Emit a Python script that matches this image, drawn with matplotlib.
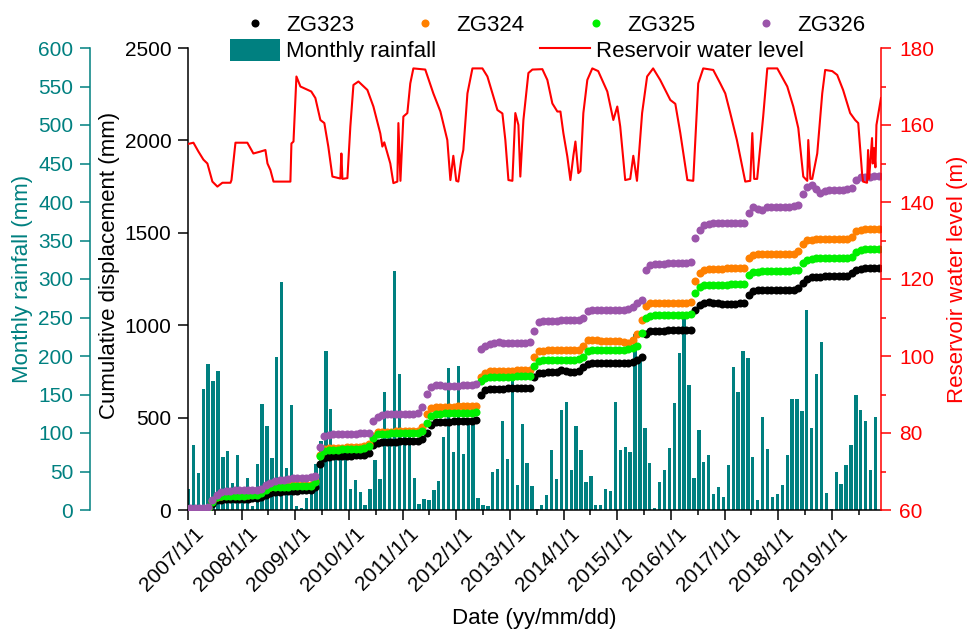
import numpy as np
import pandas as pd
import matplotlib
matplotlib.use("Agg")
import matplotlib.pyplot as plt
import matplotlib.dates as mdates
import matplotlib.transforms as mtransforms
from matplotlib.lines import Line2D
from matplotlib.patches import Patch
from matplotlib.ticker import MultipleLocator, FuncFormatter

plt.rcParams["font.family"] = ["Liberation Sans", "DejaVu Sans"]

# ------------------------------------------------------------
# data
# ------------------------------------------------------------
# monthly rainfall bars (mm), in plotting order
rain = [27, 84, 48, 157, 189, 168, 180, 69, 77, 35,
        71, 12, 41, 5, 60, 138, 109, 67, 199, 296,
        55, 137, 5, 3, 16, 26, 60, 90, 206, 131,
        80, 78, 76, 27, 39, 23, 7, 27, 65, 40,
        153, 102, 310, 177, 95, 95, 41, 8, 14, 13,
        26, 38, 95, 185, 75, 187, 73, 110, 112, 15,
        6, 5, 49, 53, 116, 66, 169, 32, 112, 61,
        31, 1, 7, 20, 78, 40, 130, 140, 52, 109,
        78, 36, 44, 6, 6, 27, 25, 140, 78, 82,
        75, 229, 195, 106, 61, 2, 37, 52, 81, 139,
        204, 249, 162, 42, 104, 62, 71, 21, 30, 17,
        59, 186, 153, 206, 198, 69, 13, 121, 79, 17,
        21, 33, 72, 144, 144, 128, 260, 107, 177, 218,
        22, 1, 50, 34, 58, 85, 150, 130, 116, 52,
        121]

# reservoir water level (m)
wl_dates = ["2007-01-04", "2007-02-07", "2007-03-13", "2007-04-16", "2007-05-13", "2007-06-16",
            "2007-07-20", "2007-08-23", "2007-10-17", "2007-10-24", "2007-11-20", "2008-02-09",
            "2008-03-21", "2008-05-08", "2008-06-11", "2008-06-25", "2008-07-15", "2008-08-05",
            "2008-11-28", "2008-12-05", "2008-12-19", "2009-01-08", "2009-02-04", "2009-04-19",
            "2009-05-17", "2009-06-20", "2009-07-17", "2009-08-13", "2009-09-10", "2009-11-03",
            "2009-11-10", "2009-11-17", "2009-12-21", "2010-01-10", "2010-01-31", "2010-03-06",
            "2010-05-06", "2010-06-16", "2010-08-02", "2010-08-16", "2010-08-29", "2010-10-09",
            "2010-10-30", "2010-11-26", "2010-12-03", "2010-12-17", "2011-01-06", "2011-02-02",
            "2011-02-22", "2011-03-15", "2011-06-04", "2011-07-29", "2011-09-15", "2011-11-01",
            "2011-11-22", "2011-12-12", "2012-01-01", "2012-01-15", "2012-02-04", "2012-02-18",
            "2012-03-17", "2012-04-20", "2012-06-27", "2012-07-31", "2012-10-07", "2012-11-10",
            "2012-11-30", "2012-12-21", "2013-01-17", "2013-02-06", "2013-02-27", "2013-03-12",
            "2013-04-02", "2013-05-06", "2013-06-02", "2013-08-09", "2013-09-12", "2013-10-16",
            "2013-11-19", "2013-12-10", "2013-12-30", "2014-01-26", "2014-02-16", "2014-03-08",
            "2014-03-22", "2014-04-11", "2014-04-25", "2014-05-15", "2014-06-11", "2014-07-15",
            "2014-08-24", "2014-10-25", "2014-12-05", "2015-01-01", "2015-01-21", "2015-02-24",
            "2015-03-30", "2015-04-20", "2015-05-15", "2015-06-19", "2015-07-23", "2015-09-02",
            "2015-10-20", "2015-12-28", "2016-01-31", "2016-03-05", "2016-04-22", "2016-06-01",
            "2016-07-05", "2016-08-08", "2016-10-15", "2016-12-02", "2017-01-05", "2017-02-08",
            "2017-03-25", "2017-04-30", "2017-05-21", "2017-06-24", "2017-07-08", "2017-07-21",
            "2017-08-10", "2017-09-20", "2017-10-18", "2017-12-25", "2018-03-03", "2018-04-13",
            "2018-05-17", "2018-06-20", "2018-07-17", "2018-07-24", "2018-08-07", "2018-08-20",
            "2018-09-23", "2018-10-27", "2018-11-16", "2019-01-03", "2019-02-06", "2019-03-18",
            "2019-05-05", "2019-06-08", "2019-06-29", "2019-07-25", "2019-08-01", "2019-08-28",
            "2019-09-04", "2019-09-11", "2019-10-01", "2019-10-06", "2019-10-15", "2019-10-24",
            "2019-10-31", "2019-12-01"]
wl_level = [155.1, 155.4, 153.1, 151.0, 150.0, 145.3,
            144.0, 145.0, 145.0, 145.7, 155.4, 155.4,
            152.6, 153.1, 153.5, 150.0, 148.3, 145.3,
            145.3, 155.2, 155.7, 172.6, 170.0, 168.7,
            167.0, 161.3, 160.5, 154.4, 146.6, 146.1,
            152.6, 146.0, 146.2, 159.6, 170.4, 171.3,
            169.1, 164.8, 157.8, 154.4, 155.5, 150.0,
            144.9, 145.3, 160.5, 145.5, 162.2, 163.1,
            170.8, 174.7, 174.4, 168.2, 163.5, 156.1,
            145.7, 152.0, 145.5, 145.3, 151.0, 153.5,
            168.2, 174.7, 174.7, 172.6, 163.9, 163.0,
            156.1, 145.7, 145.5, 163.1, 160.0, 146.6,
            161.3, 173.5, 174.4, 174.5, 171.7, 165.6,
            163.5, 163.5, 157.9, 151.8, 145.7, 152.0,
            155.7, 147.5, 148.0, 163.1, 171.7, 174.7,
            174.0, 168.7, 161.3, 164.8, 159.6, 145.7,
            146.0, 152.0, 145.5, 163.1, 172.6, 174.7,
            171.7, 166.5, 165.5, 157.9, 145.7, 145.5,
            170.8, 174.7, 174.3, 170.8, 168.2, 163.1,
            156.1, 149.2, 145.3, 145.5, 157.9, 146.0,
            146.0, 162.2, 174.7, 174.7, 170.0, 164.8,
            159.2, 146.6, 145.5, 156.1, 146.0, 146.0,
            152.6, 168.2, 174.3, 174.0, 173.0, 169.1,
            163.1, 161.3, 160.5, 147.5, 145.3, 145.0,
            153.5, 146.0, 156.6, 150.0, 154.0, 149.0,
            160.0, 167.0]

# cumulative displacement (mm), one value per month from 2007/1
zg323 = [0, 0, 0, 2, 8, 35, 55, 56, 57, 58,
         58, 59, 60, 62, 64, 66, 70, 80, 92, 98,
         100, 102, 103, 104, 105, 106, 107, 108, 125, 250,
         280, 289, 290, 291, 292, 293, 294, 295, 297, 298,
         310, 350, 364, 366, 368, 369, 370, 371, 372, 372,
         373, 373, 385, 415, 460, 475, 478, 478, 478, 479,
         479, 480, 480, 480, 485, 625, 648, 655, 656, 657,
         657, 658, 658, 658, 659, 659, 662, 722, 740, 743,
         745, 745, 748, 760, 750, 745, 747, 750, 775, 790,
         794, 795, 795, 796, 796, 797, 797, 797, 798, 800,
         812, 830, 950, 968, 970, 971, 971, 972, 972, 973,
         973, 974, 976, 1082, 1110, 1122, 1125, 1120, 1118, 1116,
         1116, 1117, 1117, 1118, 1120, 1165, 1185, 1190, 1190, 1191,
         1191, 1191, 1192, 1192, 1192, 1193, 1200, 1227, 1250, 1262,
         1263, 1263, 1264, 1264, 1264, 1264, 1265, 1266, 1280, 1298,
         1305, 1307, 1308, 1309, 1309]
zg324 = [0, 0, 0, 2, 12, 48, 73, 78, 80, 80,
         81, 81, 82, 83, 84, 86, 95, 115, 127, 129,
         130, 131, 132, 133, 133, 134, 135, 136, 158, 300,
         330, 335, 336, 337, 338, 339, 340, 341, 342, 344,
         355, 400, 420, 422, 423, 424, 425, 425, 426, 427,
         428, 430, 450, 520, 550, 558, 559, 559, 560, 560,
         561, 561, 562, 562, 565, 718, 740, 750, 752, 752,
         753, 753, 754, 755, 756, 756, 760, 830, 860, 862,
         864, 864, 865, 865, 866, 866, 866, 868, 890, 918,
         920, 918, 917, 916, 916, 916, 915, 910, 906, 920,
         950, 1030, 1105, 1118, 1120, 1120, 1121, 1121, 1122, 1122,
         1122, 1122, 1125, 1240, 1280, 1298, 1305, 1305, 1306, 1306,
         1307, 1307, 1308, 1308, 1312, 1365, 1380, 1383, 1384, 1385,
         1385, 1385, 1386, 1386, 1386, 1387, 1400, 1440, 1461, 1463,
         1464, 1465, 1465, 1465, 1465, 1466, 1466, 1467, 1475, 1510,
         1517, 1520, 1522, 1522, 1520]
zg325 = [0, 0, 0, 2, 10, 45, 70, 74, 75, 76,
         76, 77, 78, 79, 80, 82, 90, 110, 122, 124,
         125, 126, 127, 128, 128, 129, 130, 131, 150, 290,
         318, 325, 326, 327, 328, 329, 330, 331, 332, 334,
         345, 390, 410, 412, 413, 414, 415, 416, 416, 417,
         418, 418, 430, 470, 510, 520, 522, 523, 523, 523,
         524, 524, 525, 525, 528, 700, 715, 720, 722, 722,
         722, 722, 722, 723, 723, 724, 726, 780, 805, 810,
         812, 812, 812, 812, 813, 813, 813, 815, 830, 862,
         866, 866, 866, 866, 866, 866, 867, 868, 870, 875,
         890, 960, 1040, 1052, 1053, 1054, 1055, 1055, 1055, 1055,
         1056, 1056, 1058, 1175, 1205, 1215, 1218, 1220, 1220, 1220,
         1220, 1221, 1221, 1222, 1225, 1270, 1288, 1290, 1292, 1293,
         1293, 1294, 1294, 1295, 1295, 1296, 1300, 1335, 1355, 1360,
         1362, 1362, 1362, 1363, 1363, 1364, 1364, 1365, 1370, 1398,
         1408, 1410, 1412, 1413, 1414]
zg326 = [9, 9, 9, 10, 15, 55, 81, 100, 105, 105,
         106, 106, 107, 108, 108, 110, 115, 135, 145, 155,
         160, 165, 170, 171, 172, 173, 175, 176, 185, 340,
         400, 408, 410, 410, 410, 412, 413, 413, 414, 415,
         418, 480, 505, 515, 518, 520, 520, 520, 521, 522,
         522, 523, 560, 630, 665, 676, 676, 670, 670, 672,
         672, 674, 675, 675, 680, 870, 888, 900, 905, 908,
         905, 905, 905, 905, 906, 906, 908, 970, 1020, 1023,
         1025, 1025, 1025, 1026, 1026, 1027, 1028, 1028, 1040, 1075,
         1082, 1082, 1082, 1082, 1082, 1083, 1084, 1084, 1085, 1100,
         1120, 1136, 1300, 1326, 1330, 1332, 1333, 1334, 1334, 1335,
         1335, 1335, 1340, 1470, 1515, 1540, 1550, 1551, 1551, 1551,
         1551, 1551, 1552, 1552, 1553, 1605, 1642, 1630, 1625, 1638,
         1642, 1642, 1642, 1642, 1642, 1643, 1650, 1710, 1750, 1759,
         1735, 1714, 1728, 1732, 1732, 1732, 1733, 1735, 1745, 1785,
         1800, 1804, 1804, 1805, 1806]

series_names = ["ZG323", "ZG324", "ZG325", "ZG326"]
series_colors = ["black", "#FF8000", "#00F000", "#9B55AA"]

TEAL = "#008080"
RED = "#FF0000"
FS_TICK = 15
FS_LAB = 16
MS = 5.8

months = pd.date_range("2007-01-01", periods=len(zg323), freq="MS") + pd.Timedelta(days=14)

# ------------------------------------------------------------
# figure
# ------------------------------------------------------------
fig = plt.figure(figsize=(9.77, 6.30), dpi=100)
rect = [188 / 977, 120 / 630, 693 / 977, 462 / 630]

# rainfall, bottom layer, own left axis pushed outward
ax_r = fig.add_axes(rect)
ax_r.bar(np.arange(len(rain)), rain, width=0.68, color=TEAL, zorder=1)
ax_r.set_xlim(-0.1, 141.12)
ax_r.set_ylim(0, 600)
ax_r.set_xticks([])
for s in ["top", "right", "bottom"]:
    ax_r.spines[s].set_visible(False)
ax_r.spines["left"].set_position(("outward", 70.6))
ax_r.spines["left"].set_color(TEAL)
ax_r.spines["left"].set_linewidth(1.1)
ax_r.yaxis.set_major_locator(MultipleLocator(50))
ax_r.tick_params(axis="y", colors=TEAL, labelsize=FS_TICK, length=7, width=1.1, pad=5)
ax_r.set_ylabel("Monthly rainfall (mm)", color=TEAL, fontsize=FS_LAB)
ax_r.yaxis.set_label_coords(-0.224, 0.5)

# displacement
ax = fig.add_axes(rect, facecolor="none")
for vals, col, name in zip([zg323, zg324, zg325, zg326], series_colors, series_names):
    ax.plot(months, vals, "o", ms=MS, mew=0, color=col, label=name, zorder=3)

ax.set_xlim(pd.Timestamp("2007-01-01"), pd.Timestamp("2019-12-01"))
ax.set_ylim(0, 2500)
ax.yaxis.set_major_locator(MultipleLocator(500))
ax.xaxis.set_major_locator(mdates.YearLocator())
ax.xaxis.set_minor_locator(mdates.MonthLocator(bymonth=7))


def date_label(v, pos):
    d = mdates.num2date(v)
    return f"{d.year}/{d.month}/{d.day}"


ax.xaxis.set_major_formatter(FuncFormatter(date_label))
for s in ["top", "right"]:
    ax.spines[s].set_visible(False)
for s in ["left", "bottom"]:
    ax.spines[s].set_linewidth(1.1)
ax.tick_params(axis="both", which="major", labelsize=FS_TICK, length=7, width=1.1)
ax.tick_params(axis="y", pad=5)
ax.tick_params(axis="x", which="minor", length=3.6, width=1.1)
ax.tick_params(axis="x", which="major", pad=3)
# rotated date labels, nudged a little to the right like the original
shift = mtransforms.ScaledTranslation(6 / 100, 0, fig.dpi_scale_trans)
for lab in ax.get_xticklabels():
    lab.set_rotation(45)
    lab.set_ha("right")
    lab.set_va("top")
    lab.set_rotation_mode("anchor")
    lab.set_transform(lab.get_transform() + shift)
ax.set_ylabel("Cumulative displacement (mm)", fontsize=FS_LAB)
ax.yaxis.set_label_coords(-0.098, 0.53)
ax.set_xlabel("Date (yy/mm/dd)", fontsize=FS_LAB)
ax.xaxis.set_label_coords(0.499, -0.212)

# water level on the right
ax_w = ax.twinx()
ax_w.plot(pd.to_datetime(wl_dates), wl_level, color=RED, lw=1.5, zorder=4)
ax_w.set_ylim(60, 180)
ax_w.yaxis.set_major_locator(MultipleLocator(20))
ax_w.yaxis.set_minor_locator(MultipleLocator(10))
for s in ["top", "left", "bottom"]:
    ax_w.spines[s].set_visible(False)
ax_w.spines["right"].set_color(RED)
ax_w.spines["right"].set_linewidth(1.1)
ax_w.tick_params(axis="y", which="major", colors=RED, labelsize=FS_TICK, length=7, width=1.1, pad=6)
ax_w.tick_params(axis="y", which="minor", colors=RED, length=3.6, width=1.1)
ax_w.set_ylabel("Reservoir water level (m)", color=RED, fontsize=FS_LAB)
ax_w.yaxis.set_label_coords(1.095, 0.5)

# ------------------------------------------------------------
# legends on top
# ------------------------------------------------------------
pt_handles = [Line2D([], [], marker="o", ls="none", ms=MS, mew=0, color=c)
              for c in series_colors]
fig.legend(pt_handles, series_names, loc="center left", bbox_to_anchor=(0.2497, 0.960),
           ncol=4, frameon=False, fontsize=FS_LAB, borderpad=0, borderaxespad=0,
           handlelength=1.0, handletextpad=0.9, columnspacing=2.7)

other_handles = [Patch(facecolor=TEAL, edgecolor="none"), Line2D([], [], color=RED, lw=1.5)]
fig.legend(other_handles, ["Monthly rainfall", "Reservoir water level"], loc="center left",
           bbox_to_anchor=(0.2354, 0.9198), ncol=2, frameon=False, fontsize=FS_LAB,
           borderpad=0, borderaxespad=0, handlelength=2.25, handleheight=1.13,
           handletextpad=0.25, columnspacing=4.7)

fig.savefig("out.png", dpi=100)
